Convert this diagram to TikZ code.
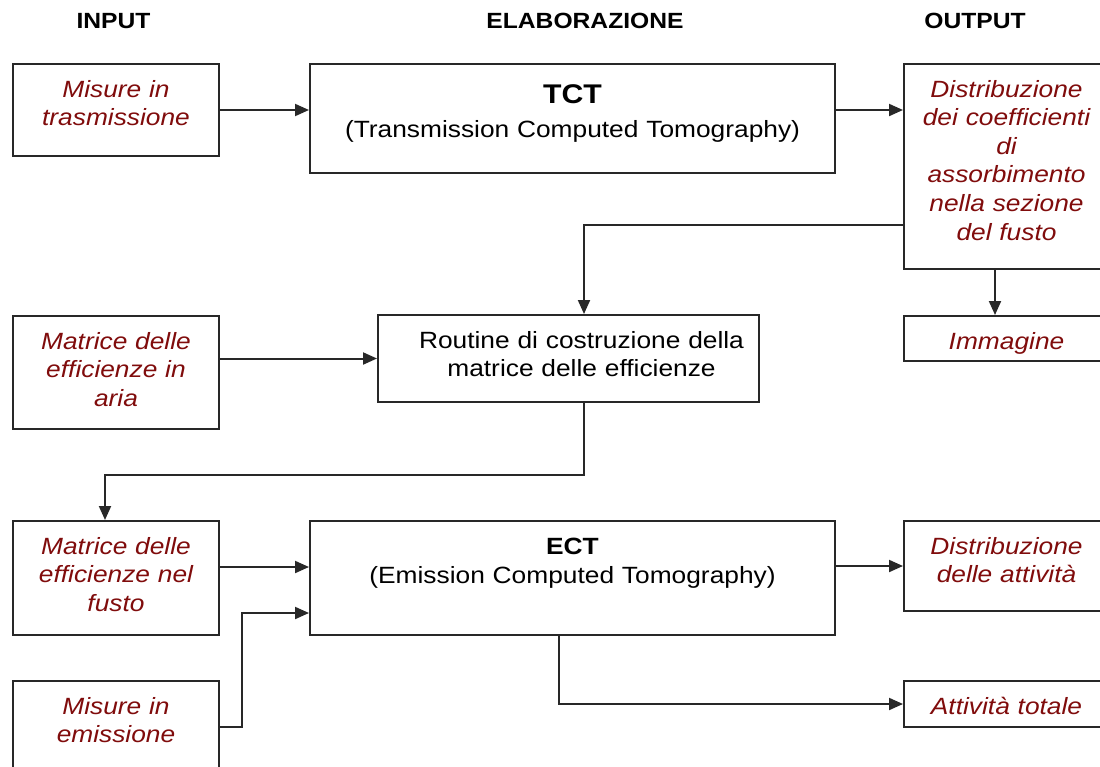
\documentclass[tikz,border=0pt]{standalone}
\usepackage{fontspec}
\setmainfont{Liberation Sans}[FakeStretch=1.12]
\usepackage{tikz}
\usetikzlibrary{arrows.meta,positioning}

\definecolor{darkred}{RGB}{128,12,12}
\definecolor{boxgray}{RGB}{40,40,40}
\newcommand{\bodyfont}{\fontsize{23.5}{28.6}\selectfont}

\tikzset{
    box/.style={draw=boxgray, line width=2pt, inner sep=0pt, anchor=north west,
        align=center, text height=33pt, font=\bodyfont},
    inbox/.style={box, text=darkred, font=\bodyfont\itshape},
    arr/.style={draw=boxgray, line width=2pt, -{Triangle[length=14pt,width=12pt]}},
    head/.style={font=\fontsize{22}{27}\selectfont\bfseries},
}

\begin{document}
\begin{tikzpicture}[x=1pt, y=-1pt]

            \useasboundingbox (0,0) rectangle (1100,766);
            \clip (0,0) rectangle (1100,766);
            \fill[white] (0,0) rectangle (1100,766);

            % Headers

            \node[head] (hin) at (113.5,21) {INPUT};
            \node[head] (hel) at (585,21) {ELABORAZIONE};
            \node[head] (hout) at (975,21) {OUTPUT};

            % Nodes

            \node[inbox, text width=206pt, text depth=59pt] (in1) at (12,63) {Misure in\\trasmissione};
            \node[box, text width=525pt, text height=39pt, text depth=70pt] (tct) at (309,63)
                {{\fontsize{27}{30}\selectfont\bfseries TCT}\\[6pt](Transmission Computed Tomography)};
            \node[inbox, text width=205pt, text depth=172pt] (out1) at (903,63)
                {Distribuzione\\dei coefficienti\\di\\assorbimento\\nella sezione\\del fusto};
            \node[inbox, text width=205pt, text depth=12pt] (img) at (903,315) {Immagine};
            \node[inbox, text width=206pt, text depth=80pt] (in2) at (12,315) {Matrice delle\\efficienze in\\aria};
            \node[box, text width=381pt, text depth=54pt] (rout) at (377,314)
                {\hspace*{26pt}Routine di costruzione della\\\hspace*{26pt}matrice delle efficienze};
            \node[inbox, text width=206pt, text depth=81pt] (in3) at (12,520) {Matrice delle\\efficienze nel\\fusto};
            \node[box, text width=525pt, text height=33.5pt, text depth=80.5pt] (ect) at (309,520)
                {{\bfseries ECT}\\(Emission Computed Tomography)};
            \node[inbox, text width=205pt, text depth=57pt] (out2) at (903,520) {Distribuzione\\delle attività};
            \node[inbox, text width=206pt, text depth=59pt] (in4) at (12,680) {Misure in\\emissione};
            \node[inbox, text width=205pt, text depth=13pt] (out3) at (903,680) {Attività totale};

            % Edges

            \draw[arr] (in1.east) -- (in1.east -| tct.west);
            \draw[arr] (tct.east |- in1.east) -- (out1.west |- in1.east);
            \draw[arr] ([yshift=45pt]out1.south west) -| ([xshift=15.5pt]rout.north);
            \draw[arr] ([xshift=-11.5pt]out1.south) -- ([xshift=-11.5pt]img.north);
            \draw[arr] (in2.east |- rout.west) -- (rout.west);
            \draw[arr] ([xshift=15.5pt]rout.south) -- ++(0,72) -| ([xshift=-11pt]in3.north);
            \draw[arr] ([yshift=11pt]in3.east) -- ([yshift=11pt]in3.east -| ect.west);
            \draw[arr] (in4.east) -- ++(22,0) |- ([yshift=-35pt]ect.west);
            \draw[arr] (ect.east |- out2.west) -- (out2.west);
            \draw[arr] ([xshift=-13.5pt]ect.south) |- (out3.west);

\end{tikzpicture}
\end{document}
